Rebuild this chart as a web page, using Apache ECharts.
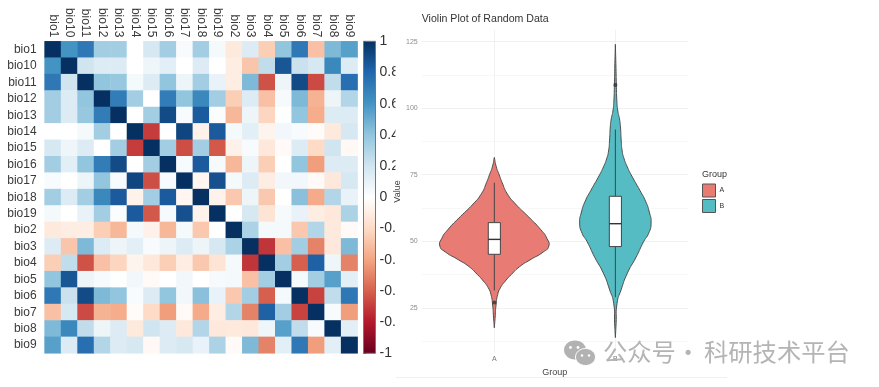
<!DOCTYPE html>
<html>
<head>
<meta charset="utf-8">
<style>html,body{margin:0;padding:0;background:#fff}#c{width:879px;height:387px}</style>
<script src="https://cdn.jsdelivr.net/npm/echarts@6/dist/echarts.min.js"></script>
</head>
<body>
<div id="c"></div>
<script>
const bios = ["bio1","bio10","bio11","bio12","bio13","bio14","bio15","bio16","bio17","bio18","bio19","bio2","bio3","bio4","bio5","bio6","bio7","bio8","bio9"];
const corr = [
[1,.6,.72,.35,.35,0,.18,.35,.03,.35,.05,-.12,.15,-.25,.4,.72,-.3,.45,.55],
[.6,1,.2,.15,.15,0,.07,.12,0,.15,0,-.1,-.28,.25,.86,.22,.18,.65,.15],
[.72,.2,1,.4,.38,.05,.15,.4,.08,.35,.1,-.1,.45,-.64,.08,.9,-.66,.25,.76],
[.35,.15,.4,1,.7,.35,0,.7,.4,.65,.35,-.25,.15,-.3,.04,.45,-.35,.08,.3],
[.35,.15,.38,.7,1,0,.35,.9,.03,.84,.02,-.33,.08,-.22,.01,.4,-.37,.15,.15],
[0,0,.05,.35,0,1,-.7,0,.92,-.08,.84,.05,.12,-.06,.06,.03,-.02,-.12,.18],
[.18,.07,.15,0,.35,-.7,1,.35,-.65,.35,-.62,-.08,.03,-.13,-.03,.15,-.2,.2,-.04],
[.35,.12,.4,.7,.9,0,.35,1,.03,.84,.04,-.33,.08,-.25,0,.4,-.42,.15,.15],
[.03,0,.08,.4,.03,.92,-.65,.03,1,-.05,.88,.05,.15,-.1,.06,.06,-.03,-.13,.18],
[.35,.15,.35,.65,.84,-.07,.35,.84,-.05,1,-.07,-.27,.08,-.27,0,.42,-.38,.3,.1],
[.05,0,.1,.35,.02,.84,-.62,.04,.88,-.07,1,0,.18,-.15,.04,.1,-.1,-.13,.32],
[-.12,-.1,-.1,-.25,-.33,.05,-.08,-.33,.05,-.27,0,1,.32,.05,.05,-.27,.3,-.12,-.03],
[.15,-.28,.45,.15,.08,.12,.03,.08,.15,.08,.18,.32,1,-.72,-.3,.35,-.5,-.13,.45],
[-.25,.25,-.64,-.3,-.22,-.06,-.13,-.25,-.1,-.27,-.15,.05,-.72,1,.35,-.6,.82,.07,-.5],
[.4,.86,.08,.04,.01,.06,-.03,0,.06,0,.04,.05,-.3,.35,1,.05,.35,.55,.12],
[.72,.22,.9,.45,.4,.03,.15,.4,.06,.42,.1,-.27,.35,-.6,.05,1,-.68,.25,.72],
[-.3,.18,-.66,-.35,-.37,-.02,-.2,-.42,-.03,-.38,-.1,.3,-.5,.82,.35,-.68,1,.03,-.42],
[.45,.65,.25,.08,.15,-.12,.2,.15,-.13,.3,-.13,-.12,-.13,.07,.55,.25,.03,1,.12],
[.55,.15,.76,.3,.15,.18,-.04,.15,.18,.1,.32,-.03,.45,-.5,.12,.72,-.42,.12,1]
];
const rdbu = ["#67001F","#B2182B","#D6604D","#F4A582","#FDDBC7","#FFFFFF","#D1E5F0","#92C5DE","#4393C3","#2166AC","#053061"];

const groups = ["A","B"];
const violinAValues = [81.5,78,75,72,68,64,59.3,54.3,51,48.2,46,43,40.5,37.5,35,32.5,30,26,21,17.5];
const violinAWidths = [0,.016,.04,.065,.105,.175,.28,.385,.435,.45,.405,.295,.21,.14,.09,.05,.028,.014,.006,0];
const violinBValues = [124,115,109,103,99,96,93,88,84,81,78,75,69,65,61,56.9,53,50,44,38,31.7,26.7,19,13.8];
const violinBWidths = [0,.005,.008,.012,.02,.034,.042,.048,.056,.072,.098,.13,.204,.25,.28,.295,.275,.235,.171,.099,.047,.014,.006,0];
const boxStats = [
  {q1:45.1, med:50.7, q3:57, lo:31.5, hi:72},
  {q1:48, med:56.6, q3:66.9, lo:29, hi:92}
];
const outliers = [[1,27],[2,108.7]];
const violinColors = ["#E87C74","#55BCC3"];
const majorTicks = [25,50,75,100,125];
const minorTicks = [12.5,37.5,62.5,87.5,112.5];
const barTicks = [-1,-.8,-.6,-.4,-.2,0,.2,.4,.6,.8,1];

const heatData = [];
corr.forEach((r,i)=>r.forEach((v,j)=>heatData.push([j,i,v])));

function violinSeries(idx, vals, widths){
  return {
    type:'custom', name:groups[idx], xAxisIndex:2, yAxisIndex:2, z:4, clip:false,
    itemStyle:{color:violinColors[idx], borderColor:'#555', borderWidth:1},
    data:[[idx+1, vals[0]]],
    renderItem(p, api){
      const cx = idx+1, pts = [];
      vals.forEach((v,i)=>pts.push(api.coord([cx-widths[i], v])));
      for(let i=vals.length-1;i>=0;i--) pts.push(api.coord([cx+widths[i], vals[i]]));
      return {type:'polygon', shape:{points:pts, smooth:0.6},
        style:{fill:violinColors[idx], stroke:'#4d4d4d', lineWidth:1}};
    }
  };
}

const option = {
  backgroundColor:'#fff', animation:false,
  grid:[
    {left:44.6, top:41.3, width:313, height:312},
    {left:363.5, top:41.3, width:12, height:312},
    {left:421.7, top:30, width:266.3, height:323}
  ],
  xAxis:[
    {gridIndex:0, type:'category', data:bios, position:'top', axisLine:{show:false}, axisTick:{show:false}, splitLine:{show:false},
     axisLabel:{rotate:90, fontFamily:'Liberation Sans', fontSize:12, color:'#3a3a3a', margin:4, interval:0}},
    {gridIndex:1, type:'value', min:0, max:1, show:false},
    {gridIndex:2, type:'value', min:.4, max:2.6, z:3,
     name:'Group', nameLocation:'middle', nameGap:8,
     nameTextStyle:{fontFamily:'Liberation Sans', fontSize:9, color:'#444'},
     axisLine:{show:false},
     axisTick:{show:false, customValues:[1,2]},
     splitLine:{show:true, lineStyle:{color:'#eeeeee', width:.8}},
     axisLabel:{customValues:[1,2], formatter:v=>groups[v-1], fontFamily:'Liberation Sans', fontSize:7, color:'#777', margin:3}}
  ],
  yAxis:[
    {gridIndex:0, type:'category', data:bios, inverse:true, axisLine:{show:false}, axisTick:{show:false}, splitLine:{show:false},
     axisLabel:{fontFamily:'Liberation Sans', fontSize:12, color:'#3a3a3a', margin:8, interval:0}},
    {gridIndex:1, type:'value', min:-1, max:1, position:'right', z:1,
     axisLine:{show:false}, splitLine:{show:false},
     axisTick:{show:true, inside:false, length:3, customValues:barTicks, lineStyle:{color:'#333', width:1}},
     axisLabel:{customValues:barTicks, formatter:v=>String(Math.round(v*10)/10), fontFamily:'Liberation Sans', fontSize:14, color:'#333', margin:4, padding:[2,0,0,0]}},
    {gridIndex:2, type:'value', min:8, max:129.4, z:3,
     name:'Value', nameLocation:'middle', nameGap:20, nameRotate:90,
     nameTextStyle:{fontFamily:'Liberation Sans', fontSize:9, color:'#444'},
     axisLine:{show:false},
     axisTick:{show:false, customValues:majorTicks},
     splitLine:{show:true, lineStyle:{color:'#f0f0f0', width:1}},
     axisLabel:{customValues:majorTicks, fontFamily:'Liberation Sans', fontSize:7, color:'#8c8c8c', margin:4}},
    {gridIndex:2, type:'value', min:8, max:129.4, z:3,
     axisLine:{show:false},
     axisTick:{show:false, customValues:minorTicks},
     splitLine:{show:true, lineStyle:{color:'#f4f4f4', width:.7}},
     axisLabel:{show:false, customValues:minorTicks}}
  ],
  visualMap:{show:false, seriesIndex:0, min:-1, max:1, inRange:{color:rdbu}},
  legend:{
    show:true, data:groups, orient:'vertical', left:702, top:183.5, itemWidth:13, itemHeight:13, itemGap:1.5,
    selectedMode:false, icon:'rect', padding:0,
    textStyle:{fontFamily:'Liberation Sans', fontSize:7, color:'#333', padding:[0,0,0,-1]},
    itemStyle:{borderColor:'#555', borderWidth:1}
  },
  series:[
    {type:'heatmap', xAxisIndex:0, yAxisIndex:0, data:heatData, progressive:0, itemStyle:{borderWidth:0}},
    {type:'custom', xAxisIndex:1, yAxisIndex:1, data:[[0,-1]], clip:false,
     renderItem(p, api){
       const a = api.coord([0,1]), b = api.coord([1,-1]);
       const stops = rdbu.slice().reverse().map((c,i)=>({offset:i/10, color:c}));
       return {type:'rect', shape:{x:a[0], y:a[1], width:b[0]-a[0], height:b[1]-a[1]},
         style:{fill:new echarts.graphic.LinearGradient(0,0,0,1,stops), stroke:'#777', lineWidth:1}};
     }},
    violinSeries(0, violinAValues, violinAWidths),
    violinSeries(1, violinBValues, violinBWidths),
    {type:'custom', name:'box', xAxisIndex:2, yAxisIndex:2, z:5, data:boxStats.map((b,i)=>[i+1,b.med]),
     renderItem(p, api){
       const x = api.value(0), b = boxStats[p.dataIndex], w = .05;
       const l = api.coord([x-w,b.q3]), r = api.coord([x+w,b.q1]);
       const m1 = api.coord([x-w,b.med]), m2 = api.coord([x+w,b.med]);
       const hi1 = api.coord([x,b.hi]), hi2 = api.coord([x,b.q3]);
       const lo1 = api.coord([x,b.q1]), lo2 = api.coord([x,b.lo]);
       const ln = {stroke:'#444', lineWidth:1};
       return {type:'group', children:[
         {type:'line', shape:{x1:hi1[0],y1:hi1[1],x2:hi2[0],y2:hi2[1]}, style:ln},
         {type:'line', shape:{x1:lo1[0],y1:lo1[1],x2:lo2[0],y2:lo2[1]}, style:ln},
         {type:'rect', shape:{x:l[0],y:l[1],width:r[0]-l[0],height:r[1]-l[1]}, style:{fill:'#fff',stroke:'#444',lineWidth:1}},
         {type:'line', shape:{x1:m1[0],y1:m1[1],x2:m2[0],y2:m2[1]}, style:{stroke:'#333',lineWidth:1.4}}
       ]};
     }},
    {type:'scatter', name:'outliers', xAxisIndex:2, yAxisIndex:2, z:6, data:outliers, symbolSize:4,
     itemStyle:{color:'#333'}, silent:true}
  ],
  graphic:[
    {type:'rect', z:2, shape:{x:395.5, y:0, width:484, height:387}, style:{fill:'#fff'}},
    {type:'line', z:2, shape:{x1:396, y1:377.5, x2:727, y2:377.5}, style:{stroke:'#f0f0f0', lineWidth:1}},
    {type:'text', z:3, x:421.7, y:14, style:{text:'Violin Plot of Random Data', font:'10.6px "Liberation Sans"', fill:'#333'}},
    {type:'text', z:3, x:702, y:170.5, style:{text:'Group', font:'9px "Liberation Sans"', fill:'#333'}},
    {type:'ellipse', z:8, shape:{cx:575, cy:350, rx:11, ry:9.5}, style:{fill:'#b2b2b2'}},
    {type:'ellipse', z:8, shape:{cx:585.5, cy:357, rx:10, ry:8.5}, style:{fill:'#b2b2b2', stroke:'#fff', lineWidth:1}},
    {type:'circle', z:9, shape:{cx:570.5, cy:347.5, r:1.4}, style:{fill:'#fff'}},
    {type:'circle', z:9, shape:{cx:578, cy:347.5, r:1.4}, style:{fill:'#fff'}},
    {type:'circle', z:9, shape:{cx:582, cy:355.5, r:1.2}, style:{fill:'#fff'}},
    {type:'circle', z:9, shape:{cx:589, cy:355.5, r:1.2}, style:{fill:'#fff'}},
    {type:'text', z:8, x:603, y:340, style:{text:'公众号', font:'24.3px "Noto Sans CJK SC"', fill:'#b4b4b4'}},
    {type:'text', z:8, x:676, y:340, style:{text:'·', font:'24.3px "Noto Sans CJK SC"', fill:'#b4b4b4'}},
    {type:'text', z:8, x:704, y:340, style:{text:'科研技术平台', font:'24.3px "Noto Sans CJK SC"', fill:'#b4b4b4'}}
  ]
};
const chart = echarts.init(document.getElementById('c'), null, {renderer:'canvas'});
chart.setOption(option);
</script>
</body>
</html>
